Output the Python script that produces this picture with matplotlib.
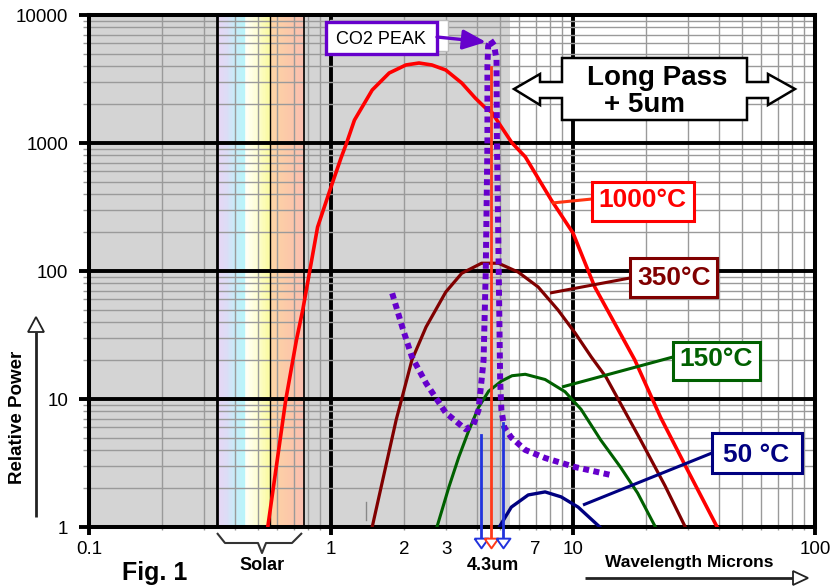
import numpy as np
import matplotlib
matplotlib.use('Agg')
import matplotlib.pyplot as plt
from matplotlib.patches import Rectangle, Polygon, FancyArrowPatch
from matplotlib.lines import Line2D
from matplotlib.ticker import LogLocator, FuncFormatter, NullFormatter
import matplotlib.colors as mcolors

plt.rcParams['font.family'] = ['Liberation Sans', 'DejaVu Sans']

# ---------------- data ----------------
t1000_x = [0.548, 0.65, 0.72, 0.765, 0.88, 1.0, 1.10, 1.16, 1.25, 1.48, 1.74, 2.04, 2.31, 2.61,
           2.98, 3.47, 3.95, 4.35, 4.61, 5.06, 5.6, 6.35, 8.13, 10, 12.3, 18.0, 23.0, 29.7, 39.4]
t1000_y = [1, 9.8, 29, 50, 220, 453, 764, 1000, 1510, 2594, 3524, 4070, 4216, 4070,
           3717, 2942, 2240, 1877, 1746, 1333, 1000, 780, 359, 198, 75, 20.2, 7.2, 2.8, 1]

t350_x = [1.48, 1.86, 1.97, 2.16, 2.47, 2.98, 3.47, 4.19, 4.92, 5.94, 7.18, 8.67, 10.2, 11.9,
          13.7, 19, 24, 29.1]
t350_y = [1, 6.9, 10.4, 20.2, 36.5, 68.5, 96, 115, 115, 98, 75, 49.6, 32.8, 21.3,
          14.8, 4.8, 2.1, 1]

t150_x = [2.74, 3.07, 3.37, 3.7, 4.07, 4.48, 5.06, 5.6, 6.35, 7.67, 9.27, 10.8, 13.0, 15.7,
          18.5, 21.9]
t150_y = [1, 2.05, 3.5, 5.6, 8.6, 11.5, 13.8, 15.2, 15.6, 14.2, 11.4, 8.3, 4.8, 2.94,
          1.84, 1]

t50_x = [4.96, 5.56, 6.53, 7.67, 8.93, 10.5, 12.9]
t50_y = [1, 1.43, 1.78, 1.88, 1.72, 1.43, 1]

co2_x = [1.79, 1.97, 2.16, 2.47, 2.98, 3.6, 3.88, 4.07, 4.27, 4.36, 4.43, 4.43, 4.46, 4.55,
         4.72, 4.83, 4.85, 4.92, 5.0, 5.06, 5.2, 5.56, 6.35, 7.67, 10.2, 14.3]
co2_y = [67, 36.5, 21.3, 13.3, 7.8, 5.8, 6.3, 8.2, 20, 100, 1000, 4000, 5700, 6400,
         5800, 4500, 1000, 146, 14, 8.2, 6.0, 5.0, 4.0, 3.46, 2.94, 2.55]

arrow_x = [4.15, 4.6, 5.16]
arrow_top = [5.2, 3925, 6.5]
arrow_colors = ['#2233dd', '#ff3a1a', '#2233dd']

x_major_ticks = [0.1, 1, 10, 100]
x_major_labels = ['0.1', '1', '10', '100']
x_minor_labels = {2: '2', 3: '3', 7: '7'}
y_ticks = [1, 10, 100, 1000, 10000]
y_labels = ['1', '10', '100', '1000', '10000']

gray_region = (0.1, 5.5)
solar_stops = [(0.339, '#e8d6f4'), (0.37, '#dcdcf6'), (0.40, '#c8ecf8'), (0.44, '#b8f4fa'),
               (0.445, '#fffff6'), (0.49, '#fefed6'), (0.56, '#fafa9e')]
solar_stops2 = [(0.56, '#fdd6a6'), (0.66, '#fcc9a8'), (0.77, '#fbbfb0')]
solar_edges = [0.339, 0.56, 0.77]

# ---------------- figure ----------------
W, H = 830, 588
fig = plt.figure(figsize=(W / 100, H / 100), dpi=100)
fig.patch.set_facecolor('white')


def F(px, py):
    return (px / W, 1 - py / H)


ax = fig.add_axes([89 / W, 1 - 527 / H, (815 - 89) / W, (527 - 15) / H])
ax.set_xscale('log')
ax.set_yscale('log')
ax.set_xlim(0.1, 100)
ax.set_ylim(1, 10000)
ax.set_facecolor('white')

ax.axvspan(*gray_region, color='#d4d4d4', lw=0, zorder=0.1)


def gradient(stops, n=40):
    xs = np.log10([s[0] for s in stops])
    cols = np.array([mcolors.to_rgb(s[1]) for s in stops])
    edges = np.linspace(xs[0], xs[-1], n + 1)
    for a, b in zip(edges[:-1], edges[1:]):
        m = 0.5 * (a + b)
        c = [np.interp(m, xs, cols[:, k]) for k in range(3)]
        ax.axvspan(10 ** a, 10 ** b, color=c, lw=0, zorder=0.2)


gradient(solar_stops)
gradient(solar_stops2)
for xe, lw in zip(solar_edges, [2.0, 1.0, 1.2]):
    ax.axvline(xe, color='black', lw=lw, zorder=0.6)

ax.set_axisbelow(True)
ax.xaxis.set_minor_locator(LogLocator(base=10, subs=np.arange(2, 10), numticks=20))
ax.yaxis.set_minor_locator(LogLocator(base=10, subs=np.arange(2, 10), numticks=20))
ax.set_xticks(x_major_ticks, x_major_labels)
ax.set_yticks(y_ticks, y_labels)


def minor_fmt(v, p):
    r = int(round(v))
    if abs(v - r) < 1e-6 and r in x_minor_labels:
        return x_minor_labels[r]
    return ''


ax.xaxis.set_minor_formatter(FuncFormatter(minor_fmt))
ax.yaxis.set_minor_formatter(NullFormatter())
ax.grid(which='major', color='black', lw=2.8)
ax.grid(which='minor', color='#9a9a9a', lw=1.0)

ax.tick_params(axis='x', which='major', length=6, width=2.8, color='black', labelsize=13.5, pad=4)
ax.tick_params(axis='x', which='minor', length=2.5, width=1, color='#9a9a9a', labelsize=13.5, pad=7.5)
ax.tick_params(axis='y', which='major', length=7, width=2.8, color='black', labelsize=13.5, pad=8)
ax.tick_params(axis='y', which='minor', length=4.5, width=1, color='#9a9a9a')
for s in ax.spines.values():
    s.set_linewidth(2.9)
    s.set_color('black')

# curves
ax.plot(t1000_x, t1000_y, color='#ff0000', lw=2.6, zorder=3)
ax.plot(t350_x, t350_y, color='#800000', lw=2.3, zorder=3)
ax.plot(t150_x, t150_y, color='#006000', lw=2.2, zorder=3)
ax.plot(t50_x, t50_y, color='#000080', lw=2.4, zorder=3)
ax.plot(co2_x, co2_y, color='#6600cc', lw=4.3, ls=(0, (1.0, 0.75)), zorder=4)

# small artifact mark
ax.plot([1.4, 1.4], [1.13, 1.57], color='#888888', lw=1, zorder=2)

# 4.3um arrows
tri = [(-1, 0.7), (1, 0.7), (0, -0.7), (-1, 0.7)]
for x, top, c in zip(arrow_x, arrow_top, arrow_colors):
    ax.plot([x, x], [top, 0.82], color=c, lw=2, clip_on=False, zorder=5)
    ax.plot([x], [0.75], marker=tri, ms=10, mfc='white', mec=c, mew=1.4,
            clip_on=False, zorder=6)

# ---------------- annotations in figure pixels ----------------
def fline(pts, color, lw, z=5):
    xs = [p[0] / W for p in pts]
    ys = [1 - p[1] / H for p in pts]
    fig.add_artist(Line2D(xs, ys, color=color, lw=lw, transform=fig.transFigure, zorder=z,
                          solid_capstyle='butt'))


def fbox(x0, y0, x1, y1, ec, lw=2.2, fc='white', z=6):
    fig.add_artist(Rectangle(F(x0, y1), (x1 - x0) / W, (y1 - y0) / H, fc=fc, ec=ec, lw=lw,
                             transform=fig.transFigure, zorder=z))


def ftext(px, py, s, **kw):
    fig.text(px / W, 1 - py / H, s, **kw)


# temperature labels
labels = [
    ('1000°C', '#ff0000', '#ff3311', (592, 182, 694, 221), (642, 200), [(592, 199), (552, 203)]),
    ('350°C', '#800000', '#800000', (630, 258, 717, 297), (674, 278), [(630, 278), (550, 293)]),
    ('150°C', '#006000', '#006000', (673, 342, 760, 380), (716, 359), [(673, 357), (562, 387)]),
    ('50 °C', '#000080', '#000080', (712, 433, 802, 473), (756, 455), [(712, 453), (583, 505)]),
]
for txt, tc, lc, (x0, y0, x1, y1), (tx, ty), con in labels:
    fline(con, lc, 2.2, z=5)
    fbox(x0, y0, x1, y1, ec=tc, lw=2.2)
    ftext(tx, ty, txt, color=tc, fontsize=19, fontweight='bold', ha='center', va='center',
          zorder=7)

# Long Pass double arrow
lp = [(514, 89), (540, 74), (540, 82), (562, 82), (562, 58), (747, 58), (747, 82), (768, 82),
      (768, 74), (795, 89), (768, 105), (768, 98), (747, 98), (747, 120), (562, 120),
      (562, 98), (540, 98), (540, 105)]
fig.add_artist(Polygon([F(*p) for p in lp], closed=True, fc='white', ec='black', lw=1.8,
                       transform=fig.transFigure, zorder=6))
ftext(657, 85, 'Long Pass', fontsize=20, fontweight='bold', ha='center', va='baseline', zorder=7)
ftext(644, 112, '+ 5um', fontsize=20, fontweight='bold', ha='center', va='baseline', zorder=7)

# CO2 PEAK box
fbox(330, 20, 448, 51, ec='#bbbbbb', lw=1, z=5)
fbox(326, 22, 437, 54, ec='#6600cc', lw=2.4, z=6)
ftext(381, 39, 'CO2 PEAK', fontsize=13, ha='center', va='center', zorder=7)
fig.add_artist(FancyArrowPatch(F(437, 37), F(486, 42), transform=fig.transFigure,
                               arrowstyle='-|>,head_length=14,head_width=6', mutation_scale=1,
                               color='#6600cc', lw=2.4, zorder=7, shrinkA=0, shrinkB=0))

# axis arrows
fline([(36, 517), (36, 332)], '#222222', 2.0)
fig.add_artist(Polygon([F(28, 332), F(44, 332), F(36, 317)], closed=True, fc='white',
                       ec='#222222', lw=1.3, transform=fig.transFigure, zorder=6))
fline([(585, 578), (793, 578)], '#222222', 2.0)
fig.add_artist(Polygon([F(793, 571), F(793, 585), F(808, 578)], closed=True, fc='white',
                       ec='#222222', lw=1.3, transform=fig.transFigure, zorder=6))

# solar bracket
fline([(217, 533), (225, 543), (258, 543), (262, 553), (266, 543), (292, 543), (302, 533)],
      '#333333', 1.5)

ftext(262, 565, 'Solar', fontsize=13, fontweight='bold', ha='center', va='center')
ftext(155, 573, 'Fig. 1', fontsize=18, fontweight='bold', ha='center', va='center')
ftext(493, 565, '4.3um', fontsize=13, fontweight='bold', ha='center', va='center')
ftext(689, 563, 'Wavelength Microns', fontsize=12.5, fontweight='bold', ha='center', va='center')
ftext(18, 417, 'Relative Power', fontsize=13.5, fontweight='bold', ha='center', va='center',
      rotation=90)

fig.savefig('out.png', dpi=100)
